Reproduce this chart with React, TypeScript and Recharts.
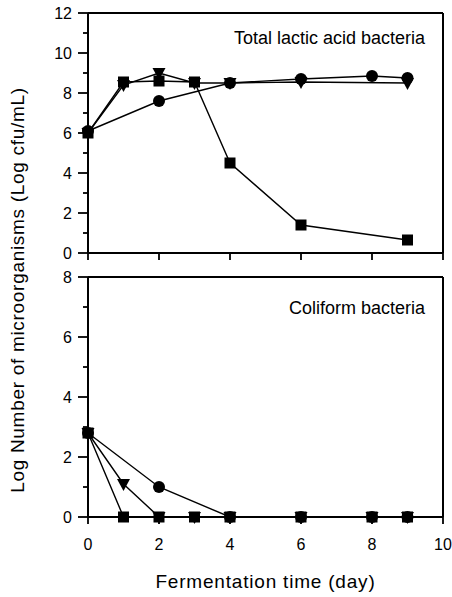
import React from 'react';
import { LineChart, Line, XAxis, YAxis, ReferenceLine } from 'recharts';

// fermentation days and log counts
const lacticCircleDays = [0, 2, 4, 6, 8, 9];
const lacticCircleLog = [6.1, 7.6, 8.5, 8.7, 8.85, 8.75];
const lacticTriangleDays = [0, 1, 2, 3, 4, 6, 9];
const lacticTriangleLog = [6.0, 8.4, 9.0, 8.5, 8.5, 8.55, 8.5];
const lacticSquareDays = [0, 1, 2, 3, 4, 6, 9];
const lacticSquareLog = [6.0, 8.55, 8.6, 8.55, 4.5, 1.4, 0.65];

const coliCircleDays = [0, 2, 4, 6, 8, 9];
const coliCircleLog = [2.8, 1.0, 0, 0, 0, 0];
const coliTriangleDays = [0, 1, 2, 3, 4, 6, 8, 9];
const coliTriangleLog = [2.8, 1.1, 0, 0, 0, 0, 0, 0];
const coliSquareDays = [0, 1, 2, 3, 4, 6, 8, 9];
const coliSquareLog = [2.8, 0, 0, 0, 0, 0, 0, 0];

const dayTicks = [0, 2, 4, 6, 8, 10];
const lacticTicks = [0, 1, 2, 3, 4, 5, 6, 7, 8, 9, 10, 11, 12];
const coliTicks = [0, 1, 2, 3, 4, 5, 6, 7, 8];

const FONT = '"Liberation Sans", Arial, Helvetica, sans-serif';

function pts(xs: number[], ys: number[]) {
  return xs.map((x, i) => ({ day: x, log: ys[i] }));
}

const Circle = (p: any) => <circle cx={p.cx} cy={p.cy} r={6} fill="#000" />;
const Square = (p: any) => (
  <rect x={p.cx - 5.5} y={p.cy - 5.5} width={11} height={11} fill="#000" />
);
const Triangle = (p: any) => (
  <path d={`M${p.cx - 6.5},${p.cy - 5} L${p.cx + 6.5},${p.cy - 5} L${p.cx},${p.cy + 7} Z`} fill="#000" />
);

// y tick: long tick + label on even values, short tick on odd ones
function YTick(props: any) {
  const { x, y, payload } = props;
  const major = payload.value % 2 === 0;
  return (
    <g>
      <line x1={x - (major ? 10 : 5)} x2={x} y1={y} y2={y} stroke="#000" strokeWidth={1.8} />
      {major && (
        <text x={x - 16} y={y} dy={6} textAnchor="end" fontSize={16} fontFamily={FONT} fill="#000">
          {payload.value}
        </text>
      )}
    </g>
  );
}

function Panel(props: {
  height: number;
  yMax: number;
  yTicks: number[];
  xAxisHeight: number;
  showXLabels: boolean;
  circle: { day: number; log: number }[];
  triangle: { day: number; log: number }[];
  square: { day: number; log: number }[];
}) {
  const { height, yMax, yTicks, xAxisHeight, showXLabels } = props;
  return (
    <LineChart width={452} height={height} margin={{ top: 13, right: 9, left: 38, bottom: 0 }}>
      <XAxis
        dataKey="day"
        type="number"
        domain={[0, 10]}
        ticks={dayTicks}
        height={xAxisHeight}
        stroke="#000"
        axisLine={{ stroke: '#000', strokeWidth: 2 }}
        tickLine={{ stroke: '#000', strokeWidth: 1.8 }}
        tickSize={7}
        tickMargin={15}
        tick={{ fontSize: 16, fill: '#000', fontFamily: FONT }}
        tickFormatter={(v) => (showXLabels ? String(v) : '')}
        label={
          showXLabels
            ? {
                value: 'Fermentation time (day)',
                position: 'insideBottom',
                offset: 9,
                fontSize: 19,
                fill: '#000',
                fontFamily: FONT,
                letterSpacing: 0.8,
              }
            : undefined
        }
      />
      <YAxis
        dataKey="log"
        type="number"
        domain={[0, yMax]}
        ticks={yTicks}
        interval={0}
        width={50}
        axisLine={{ stroke: '#000', strokeWidth: 2 }}
        tickLine={false}
        tickSize={0}
        tickMargin={0}
        tick={<YTick />}
      />
      <ReferenceLine y={yMax} stroke="#000" strokeWidth={2} />
      <ReferenceLine x={10} stroke="#000" strokeWidth={2} />
      <Line data={props.square} dataKey="log" stroke="#000" strokeWidth={1.4} dot={<Square />} isAnimationActive={false} />
      <Line data={props.triangle} dataKey="log" stroke="#000" strokeWidth={1.4} dot={<Triangle />} isAnimationActive={false} />
      <Line data={props.circle} dataKey="log" stroke="#000" strokeWidth={1.4} dot={<Circle />} isAnimationActive={false} />
    </LineChart>
  );
}

export default function App() {
  return (
    <div style={{ position: 'absolute', left: 0, top: 0, width: 452, height: 597, background: '#fff', fontFamily: FONT }}>
      <div style={{ position: 'absolute', left: 0, top: 0 }}>
        <Panel
          height={264}
          yMax={12}
          yTicks={lacticTicks}
          xAxisHeight={11}
          showXLabels={false}
          circle={pts(lacticCircleDays, lacticCircleLog)}
          triangle={pts(lacticTriangleDays, lacticTriangleLog)}
          square={pts(lacticSquareDays, lacticSquareLog)}
        />
      </div>
      <div style={{ position: 'absolute', left: 0, top: 264 }}>
        <Panel
          height={333}
          yMax={8}
          yTicks={coliTicks}
          xAxisHeight={80}
          showXLabels
          circle={pts(coliCircleDays, coliCircleLog)}
          triangle={pts(coliTriangleDays, coliTriangleLog)}
          square={pts(coliSquareDays, coliSquareLog)}
        />
      </div>
      <div style={{ position: 'absolute', right: 27, top: 28, fontSize: 18, lineHeight: '20px', whiteSpace: 'nowrap' }}>
        Total lactic acid bacteria
      </div>
      <div style={{ position: 'absolute', right: 27, top: 298, fontSize: 18, lineHeight: '20px', whiteSpace: 'nowrap' }}>
        Coliform bacteria
      </div>
      <div
        style={{
          position: 'absolute',
          left: 18,
          top: 290,
          transform: 'translate(-50%, -50%) rotate(-90deg)',
          fontSize: 19,
          letterSpacing: 0.7,
          whiteSpace: 'nowrap',
        }}
      >
        Log Number of microorganisms (Log cfu/mL)
      </div>
    </div>
  );
}
